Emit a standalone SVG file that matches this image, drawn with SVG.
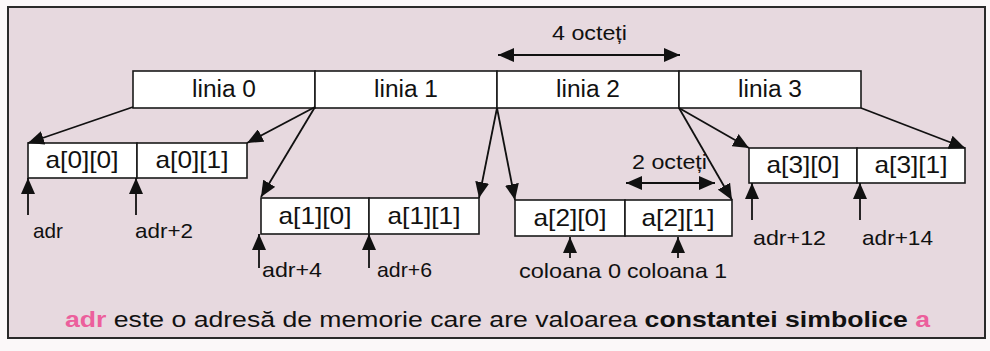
<svg xmlns="http://www.w3.org/2000/svg" width="990" height="351" viewBox="0 0 990 351">
  <style>
    text { font-family: "Liberation Sans", Arial, sans-serif; fill: #111; }
    .row { font-size: 23px; text-anchor: middle; }
    .cell { font-size: 24px; text-anchor: middle; }
    .lbl { font-size: 21px; }
    .cap { font-size: 22px; }
    .box { fill: #fff; stroke: #1a1a1a; stroke-width: 1.6; }
    .conn { stroke: #111; stroke-width: 1.8; fill: none; }
    .pink { fill: #ec5f9c; font-weight: bold; }
  </style>
  <defs>
    <marker id="head" markerUnits="userSpaceOnUse" markerWidth="17" markerHeight="14" refX="16" refY="7" orient="auto">
      <path d="M0,0 L16,7 L0,14 z" fill="#111"/>
    </marker>
    <marker id="headStart" markerUnits="userSpaceOnUse" markerWidth="17" markerHeight="14" refX="0" refY="7" orient="auto">
      <path d="M16,0 L0,7 L16,14 z" fill="#111"/>
    </marker>
  </defs>

  <!-- page and framed panel -->
  <rect x="0" y="0" width="990" height="351" fill="#fbf8f9"/>
  <rect x="8" y="7" width="977" height="331" fill="#e7d9df" stroke="#2a2a2a" stroke-width="2"/>

  <!-- rows of the matrix -->
  <g id="linia0"><rect class="box" x="133" y="71" width="182" height="37"/><text class="row" x="224" y="97" textLength="64" lengthAdjust="spacingAndGlyphs">linia 0</text></g>
  <g id="linia1"><rect class="box" x="315" y="71" width="182" height="37"/><text class="row" x="406" y="97" textLength="64" lengthAdjust="spacingAndGlyphs">linia 1</text></g>
  <g id="linia2"><rect class="box" x="497" y="71" width="182" height="37"/><text class="row" x="588" y="97" textLength="64" lengthAdjust="spacingAndGlyphs">linia 2</text></g>
  <g id="linia3"><rect class="box" x="679" y="71" width="182" height="37"/><text class="row" x="770" y="97" textLength="64" lengthAdjust="spacingAndGlyphs">linia 3</text></g>

  <!-- elements -->
  <g id="a00"><rect class="box" x="28" y="143" width="109" height="35"/><text class="cell" x="82" y="168" textLength="73" lengthAdjust="spacingAndGlyphs">a[0][0]</text></g>
  <g id="a01"><rect class="box" x="137" y="143" width="110" height="35"/><text class="cell" x="192" y="168" textLength="73" lengthAdjust="spacingAndGlyphs">a[0][1]</text></g>
  <g id="a10"><rect class="box" x="261" y="198" width="108" height="36"/><text class="cell" x="315" y="224" textLength="73" lengthAdjust="spacingAndGlyphs">a[1][0]</text></g>
  <g id="a11"><rect class="box" x="369" y="198" width="110" height="36"/><text class="cell" x="424" y="224" textLength="73" lengthAdjust="spacingAndGlyphs">a[1][1]</text></g>
  <g id="a20"><rect class="box" x="515" y="200" width="110" height="36"/><text class="cell" x="570" y="226" textLength="73" lengthAdjust="spacingAndGlyphs">a[2][0]</text></g>
  <g id="a21"><rect class="box" x="625" y="200" width="107" height="36"/><text class="cell" x="678" y="226" textLength="73" lengthAdjust="spacingAndGlyphs">a[2][1]</text></g>
  <g id="a30"><rect class="box" x="749" y="148" width="108" height="35"/><text class="cell" x="803" y="173" textLength="73" lengthAdjust="spacingAndGlyphs">a[3][0]</text></g>
  <g id="a31"><rect class="box" x="857" y="148" width="108" height="35"/><text class="cell" x="911" y="173" textLength="73" lengthAdjust="spacingAndGlyphs">a[3][1]</text></g>

  <!-- connectors -->
  <g id="connectors" class="conn">
    <line class="conn" x1="133" y1="107" x2="28" y2="143" marker-end="url(#head)"/>
    <line class="conn" x1="315" y1="107" x2="247" y2="143" marker-end="url(#head)"/>
    <line class="conn" x1="315" y1="107" x2="261" y2="197" marker-end="url(#head)"/>
    <line class="conn" x1="497" y1="108" x2="479" y2="198" marker-end="url(#head)"/>
    <line class="conn" x1="497" y1="108" x2="515" y2="200" marker-end="url(#head)"/>
    <line class="conn" x1="679" y1="108" x2="732" y2="200" marker-end="url(#head)"/>
    <line class="conn" x1="679" y1="108" x2="749" y2="148" marker-end="url(#head)"/>
    <line class="conn" x1="861" y1="108" x2="965" y2="148" marker-end="url(#head)"/>

    <!-- size spans -->
    <line class="conn" x1="498" y1="55" x2="680" y2="55" marker-start="url(#headStart)" marker-end="url(#head)"/>
    <line class="conn" x1="626" y1="183" x2="715" y2="183" marker-start="url(#headStart)" marker-end="url(#head)"/>

    <!-- address pointers -->
    <line class="conn" x1="28" y1="215" x2="28" y2="178" marker-end="url(#head)"/>
    <line class="conn" x1="136" y1="215" x2="136" y2="178" marker-end="url(#head)"/>
    <line class="conn" x1="259" y1="268" x2="259" y2="234" marker-end="url(#head)"/>
    <line class="conn" x1="369" y1="268" x2="369" y2="234" marker-end="url(#head)"/>
    <line class="conn" x1="570" y1="258" x2="570" y2="237" marker-end="url(#head)"/>
    <line class="conn" x1="678" y1="258" x2="678" y2="237" marker-end="url(#head)"/>
    <line class="conn" x1="752" y1="220" x2="752" y2="183" marker-end="url(#head)"/>
    <line class="conn" x1="860" y1="220" x2="860" y2="183" marker-end="url(#head)"/>
  </g>

  <!-- labels -->
  <text class="lbl" x="552" y="40" textLength="75" lengthAdjust="spacingAndGlyphs">4 octeți</text>
  <text class="lbl" x="632" y="169" textLength="75" lengthAdjust="spacingAndGlyphs">2 octeți</text>
  <text class="lbl" x="33" y="238" textLength="30" lengthAdjust="spacingAndGlyphs">adr</text>
  <text class="lbl" x="135" y="238" textLength="58" lengthAdjust="spacingAndGlyphs">adr+2</text>
  <text class="lbl" x="262" y="277" textLength="60" lengthAdjust="spacingAndGlyphs">adr+4</text>
  <text class="lbl" x="377" y="277" textLength="55" lengthAdjust="spacingAndGlyphs">adr+6</text>
  <text class="lbl" x="519" y="278" textLength="102" lengthAdjust="spacingAndGlyphs">coloana 0</text>
  <text class="lbl" x="627" y="278" textLength="100" lengthAdjust="spacingAndGlyphs">coloana 1</text>
  <text class="lbl" x="753" y="245" textLength="73" lengthAdjust="spacingAndGlyphs">adr+12</text>
  <text class="lbl" x="862" y="245" textLength="71" lengthAdjust="spacingAndGlyphs">adr+14</text>

  <!-- caption -->
  <text class="cap" x="65" y="327" textLength="865" lengthAdjust="spacingAndGlyphs"><tspan class="pink">adr</tspan> este o adresă de memorie care are valoarea <tspan font-weight="bold">constantei simbolice</tspan> <tspan class="pink">a</tspan></text>
</svg>
